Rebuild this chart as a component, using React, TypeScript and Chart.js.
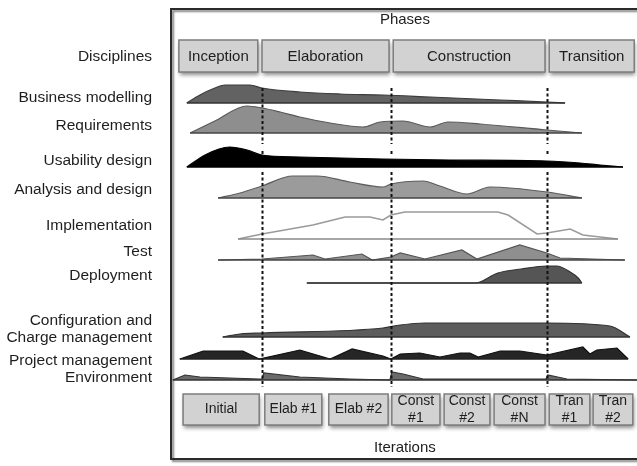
import React, { useEffect, useRef } from 'react';
import { Chart, registerables } from 'chart.js';

Chart.register(...registerables);

// ---------- DATA ----------
// Row labels (first is the header "Disciplines")
const DISCIPLINE_LABELS: (string | string[])[] = [
  'Disciplines',
  'Business modelling',
  'Requirements',
  'Usability design',
  'Analysis and design',
  'Implementation',
  'Test',
  'Deployment',
  ['Configuration and', 'Charge management'],
  'Project management',
  'Environment',
];

const PHASES = ['Inception', 'Elaboration', 'Construction', 'Transition'];
// phase spans on project timeline (% of project)
const PHASE_SPANS: [number, number][] = [[1.9, 18.8], [19.7, 46.9], [47.8, 80.3], [81.2, 99.4]];

const ITERATIONS: string[][] = [
  ['Initial'], ['Elab #1'], ['Elab #2'],
  ['Const', '#1'], ['Const', '#2'], ['Const', '#N'],
  ['Tran', '#1'], ['Tran', '#2'],
];
const ITERATION_SPANS: [number, number][] = [
  [2.8, 19.1], [20.3, 32.5], [34.0, 46.7], [47.5, 57.8],
  [58.7, 68.5], [69.4, 80.3], [81.2, 89.9], [90.6, 99.1],
];

// milestones between phases (% of project)
const MILESTONES = [19.7, 47.3, 80.7];

// effort curves: [time %, effort level]
const businessModelling: [number, number][] = [
  [3.6, 0], [6.4, 8], [9.6, 15], [11.8, 18], [17.1, 18], [19.7, 15], [27.8, 11],
  [36.4, 9], [45.6, 8], [55.7, 6], [70.7, 3], [80.7, 1], [84.6, 0],
];
const requirements: [number, number][] = [
  [4.3, 0], [9.6, 12], [16.5, 27], [19.7, 25], [23.6, 21], [27.8, 16], [34.3, 10],
  [41.3, 6], [45.0, 11], [49.9, 12], [55.7, 6], [59.5, 11], [66.4, 9], [80.7, 3], [88.2, 0],
];
const usabilityDesign: [number, number][] = [
  [3.6, 0], [7.5, 12], [10.5, 18], [12.8, 20], [16.5, 17], [19.7, 12], [27.8, 10],
  [45.6, 8], [60.0, 7], [80.7, 6], [87.8, 4], [92.1, 2], [97.0, 0],
];
const analysisDesign: [number, number][] = [
  [10.3, 0], [15.0, 5], [19.7, 12], [26.3, 22], [31.5, 22], [38.5, 16], [45.6, 11],
  [47.3, 14], [54.2, 17], [57.8, 12], [63.6, 4], [68.5, 11], [80.7, 6], [88.2, 0],
];
const implementation: [number, number][] = [
  [14.6, 0], [19.7, 5], [30.6, 14], [37.5, 22], [42.8, 22], [45.6, 19], [47.3, 24],
  [50.3, 27], [70.2, 27], [72.4, 24], [78.6, 5], [80.7, 6], [85.7, 10], [88.4, 4],
  [92.1, 2], [95.9, 0],
];
const test: [number, number][] = [
  [10.3, 0], [19.7, 1], [30.6, 5], [33.2, 1], [41.1, 6], [43.3, 0], [47.3, 3],
  [49.3, 7], [54.6, 1], [62.5, 10], [65.7, 1], [74.9, 15], [80.7, 7], [83.5, 2], [97.4, 0],
];
const deployment: [number, number][] = [
  [29.3, 0], [65.3, 0], [70.2, 10], [75.2, 14], [80.7, 17], [82.8, 17], [85.7, 11],
  [87.4, 5], [88.2, 0],
];
const configChange: [number, number][] = [
  [11.3, 0], [15.0, 3], [19.7, 4], [45.6, 9], [49.3, 12], [54.6, 14], [80.7, 14],
  [94.2, 11], [98.5, 0],
];
const projectManagement: [number, number][] = [
  [2.1, 0], [7.1, 8], [15.6, 8], [19.1, 0], [27.8, 9], [34.3, 0], [39.0, 10], [45.6, 3],
  [47.3, 0], [49.3, 5], [53.5, 6], [57.8, 2], [62.1, 6], [64.2, 6], [66.0, 2], [70.7, 8],
  [74.9, 8], [80.7, 4], [88.4, 12], [89.9, 5], [91.4, 9], [95.7, 11], [98.1, 0],
];
const environment: [number, number][] = [
  [0.6, 0], [3.2, 5], [6.4, 3], [19.1, 1], [19.7, 1], [20.1, 7], [27.8, 3], [38.5, 1],
  [47.1, 0], [47.5, 8], [49.9, 6], [54.2, 1], [80.5, 1], [80.9, 5], [85.0, 1], [100, 0],
];

const SERIES = [
  businessModelling, requirements, usabilityDesign, analysisDesign, implementation,
  test, deployment, configChange, projectManagement, environment,
];

// ---------- LAYOUT / STYLE ----------
const FONT = '"Liberation Sans", Arial, Helvetica, sans-serif';
const ROW_BASE = [95, 125, 159, 190, 231, 252, 275, 329, 351, 372];
const LABEL_POS = [49, 90, 118, 153, 182, 218, 244, 268, 321.5, 353, 370];
const FILLS = ['#626262', '#8e8e8e', '#000000', '#9b9b9b', 'rgba(255,255,255,0)', '#8f8f8f', '#555555', '#5c5c5c', '#262626', '#6a6a6a'];
const STROKES = ['#3c3c3c', '#5a5a5a', '#000000', '#5e5e5e', '#9a9a9a', '#555555', '#333333', '#333333', '#111111', '#333333'];
const BASE_COLORS = ['#333', '#444', '#000', '#444', '#8a8a8a', '#444', '#333', '#333', '#222', '#333'];
const SMOOTH = [true, true, true, true, false, false, true, true, false, false];

function drawBox(ctx: CanvasRenderingContext2D, x1: number, y1: number, x2: number, y2: number) {
  ctx.save();
  ctx.shadowColor = 'rgba(0,0,0,0.45)';
  ctx.shadowBlur = 4;
  ctx.shadowOffsetX = 1;
  ctx.shadowOffsetY = 3;
  ctx.fillStyle = '#d2d2d2';
  ctx.fillRect(x1, y1, x2 - x1, y2 - y1);
  ctx.restore();
  ctx.save();
  ctx.strokeStyle = '#7d7d7d';
  ctx.lineWidth = 1.5;
  ctx.strokeRect(x1, y1, x2 - x1, y2 - y1);
  ctx.restore();
}

const decorPlugin = {
  id: 'rupDecor',
  beforeDatasetsDraw(chart: any) {
    const { ctx, chartArea, scales } = chart;
    const xs = scales.x;
    const ys = scales.y;
    // frame
    ctx.save();
    ctx.shadowColor = 'rgba(0,0,0,0.5)';
    ctx.shadowBlur = 2;
    ctx.shadowOffsetX = 2;
    ctx.shadowOffsetY = 2;
    ctx.strokeStyle = '#2a2a2a';
    ctx.lineWidth = 2;
    ctx.strokeRect(chartArea.left + 1, chartArea.top + 1, chartArea.width + 10, chartArea.height - 2);
    ctx.restore();

    ctx.save();
    ctx.fillStyle = '#1e1e1e';
    ctx.textAlign = 'center';
    ctx.textBaseline = 'middle';
    ctx.font = `15px ${FONT}`;
    ctx.fillText('Phases', xs.getPixelForValue(50.3), ys.getPixelForValue(12));
    ctx.fillText('Iterations', xs.getPixelForValue(50.3), ys.getPixelForValue(440));
    ctx.restore();

    // phase boxes
    PHASES.forEach((p, i) => {
      const [a, b] = PHASE_SPANS[i];
      const x1 = xs.getPixelForValue(a), x2 = xs.getPixelForValue(b);
      const y1 = ys.getPixelForValue(32), y2 = ys.getPixelForValue(64);
      drawBox(ctx, x1, y1, x2, y2);
      ctx.save();
      ctx.fillStyle = '#1e1e1e';
      ctx.font = `15px ${FONT}`;
      ctx.textAlign = 'center';
      ctx.textBaseline = 'middle';
      ctx.fillText(p, (x1 + x2) / 2, (y1 + y2) / 2 + 1);
      ctx.restore();
    });

    // iteration boxes
    ITERATIONS.forEach((lines, i) => {
      const [a, b] = ITERATION_SPANS[i];
      const x1 = xs.getPixelForValue(a), x2 = xs.getPixelForValue(b);
      const y1 = ys.getPixelForValue(386), y2 = ys.getPixelForValue(417);
      drawBox(ctx, x1, y1, x2, y2);
      ctx.save();
      ctx.fillStyle = '#1e1e1e';
      ctx.font = `14px ${FONT}`;
      ctx.textAlign = 'center';
      ctx.textBaseline = 'middle';
      const cy = (y1 + y2) / 2;
      const lh = 17;
      lines.forEach((l, k) => {
        ctx.fillText(l, (x1 + x2) / 2, cy + (k - (lines.length - 1) / 2) * lh);
      });
      ctx.restore();
    });
  },
  afterDatasetsDraw(chart: any) {
    const { ctx, scales } = chart;
    const xs = scales.x;
    const ys = scales.y;
    ctx.save();
    ctx.strokeStyle = '#111';
    ctx.lineWidth = 2;
    ctx.setLineDash([3, 2.5]);
    MILESTONES.forEach((m) => {
      const x = Math.round(xs.getPixelForValue(m)) + 0.5;
      const segs: [number, number][] = [[80, 136], [164, 379]];
      segs.forEach(([a, b]) => {
        ctx.beginPath();
        ctx.moveTo(x, ys.getPixelForValue(a));
        ctx.lineTo(x, ys.getPixelForValue(b));
        ctx.stroke();
      });
      ctx.beginPath();
      ctx.moveTo(x, ys.getPixelForValue(143));
      ctx.lineTo(x, ys.getPixelForValue(146));
      ctx.stroke();
    });
    ctx.restore();
  },
};

export default function App() {
  const ref = useRef<HTMLCanvasElement>(null);
  useEffect(() => {
    document.body.style.margin = '0';
    const datasets: any[] = [];
    SERIES.forEach((pts, i) => {
      const base = ROW_BASE[i];
      datasets.push({
        label: String(DISCIPLINE_LABELS[i + 1]),
        data: pts.map(([t, e]) => ({ x: t, y: base - e })),
        borderColor: STROKES[i],
        backgroundColor: FILLS[i],
        fill: { value: base },
        borderWidth: i === 4 ? 1.5 : 1.2,
        pointRadius: 0,
        cubicInterpolationMode: SMOOTH[i] ? 'monotone' : 'default',
        tension: SMOOTH[i] ? 0.4 : 0,
        order: 2,
      });
      datasets.push({
        label: String(DISCIPLINE_LABELS[i + 1]) + ' baseline',
        data: [
          { x: pts[0][0], y: base },
          { x: pts[pts.length - 1][0], y: base },
        ],
        borderColor: BASE_COLORS[i],
        borderWidth: 1.5,
        pointRadius: 0,
        fill: false,
        order: 1,
      });
    });

    const chart = new Chart(ref.current as HTMLCanvasElement, {
      type: 'line',
      data: { datasets },
      plugins: [decorPlugin],
      options: {
        animation: false,
        responsive: false,
        devicePixelRatio: 1,
        events: [],
        layout: { padding: { left: 0, top: 8, right: 0, bottom: 6 } },
        plugins: { legend: { display: false }, tooltip: { enabled: false } },
        scales: {
          x: { type: 'linear', min: 0, max: 100, display: false },
          y: {
            type: 'linear',
            min: 0,
            max: 452,
            reverse: true,
            grid: { display: false, drawTicks: false },
            border: { display: false },
            afterBuildTicks: (scale: any) => {
              scale.ticks = LABEL_POS.map((v) => ({ value: v }));
            },
            afterFit: (scale: any) => {
              scale.width = 170;
              scale.paddingTop = 0;
              scale.paddingBottom = 0;
            },
            ticks: {
              autoSkip: false,
              padding: 18,
              color: '#1e1e1e',
              font: { family: FONT, size: 15.5, lineHeight: 1.1 },
              callback: (_v: any, idx: number) => DISCIPLINE_LABELS[idx],
            },
          },
        },
      },
    } as any);
    return () => chart.destroy();
  }, []);

  return (
    <div style={{ position: 'fixed', left: 0, top: 0, width: 637, height: 466, background: '#fff' }}>
      <canvas ref={ref} width={637} height={466} style={{ width: 637, height: 466, display: 'block' }} />
    </div>
  );
}
